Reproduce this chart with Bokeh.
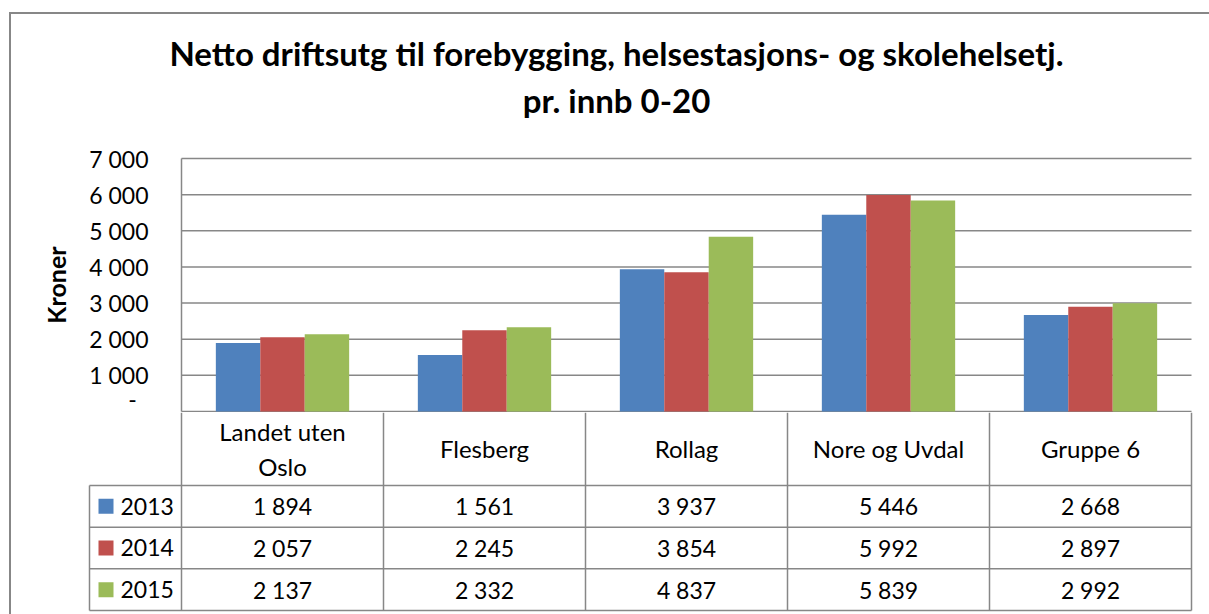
from bokeh.plotting import figure
from bokeh.models import Range1d, FixedTicker, ColumnDataSource, LinearAxis
from bokeh.transform import dodge
from bokeh.layouts import column
from bokeh.embed import file_html
from bokeh.resources import INLINE
from bokeh.core.properties import value

# ---------------- data ----------------
categories = ["Landet uten Oslo", "Flesberg", "Rollag", "Nore og Uvdal", "Gruppe 6"]
category_labels = ["Landet uten\nOslo", "Flesberg", "Rollag", "Nore og Uvdal", "Gruppe 6"]
years = ["2013", "2014", "2015"]
values_2013 = [1894, 1561, 3937, 5446, 2668]
values_2014 = [2057, 2245, 3854, 5992, 2897]
values_2015 = [2137, 2332, 4837, 5839, 2992]
y_ticks = [0, 1000, 2000, 3000, 4000, 5000, 6000, 7000]
y_tick_labels = ["-\u00a0\u00a0", "1 000", "2 000", "3 000", "4 000", "5 000", "6 000", "7 000"]
title_lines = ["Netto driftsutg til forebygging, helsestasjons- og skolehelsetj.", "pr. innb 0-20"]
y_label = "Kroner"
colors = ["#4F81BD", "#C0504D", "#9BBB59"]

FONT = "Lato"
GRID = "#878787"
series = [values_2013, values_2014, values_2015]
n = len(categories)

# shared horizontal scale: one unit = one category column (202 px)
COL = 202.0
W = 1190
x_lo = -170 / COL
x_hi = x_lo + W / COL


def new_fig(h, yr):
    f = figure(x_range=Range1d(x_lo, x_hi), y_range=yr, width=W, height=h,
               min_border_left=0, min_border_right=0, min_border_top=0, min_border_bottom=0,
               output_backend="svg", toolbar_location=None, x_axis_location=None,
               y_axis_location=None)
    f.outline_line_color = None
    f.grid.visible = False
    return f


# ---------------- title ----------------
pT = new_fig(124, Range1d(0, 1))
pT.text(x=[435 / COL] * 2, y=[0.688, 0.309], text=title_lines, text_align="center",
        text_baseline="middle", text_font=value(FONT), text_font_style="bold",
        text_font_size="33px", text_color="black")

# ---------------- chart ----------------
u = 7000 / 253.0
pA = new_fig(274, Range1d(-1 * u, 273 * u))
src = ColumnDataSource(dict(xc=[i + 0.5 for i in range(n)], y2013=values_2013,
                            y2014=values_2014, y2015=values_2015))

pA.segment(x0=[0] * len(y_ticks), x1=[n] * len(y_ticks), y0=y_ticks, y1=y_ticks,
           line_color=GRID, line_width=1.5)

offsets = [-0.22, 0.0, 0.22]
for yr, off, col in zip(years, offsets, colors):
    pA.vbar(x=dodge("xc", off), top="y" + yr, width=0.22, source=src,
            fill_color=col, line_color=None)

ax = LinearAxis(fixed_location=0, bounds=(0, 7000))
ax.ticker = FixedTicker(ticks=y_ticks)
ax.major_label_overrides = {t: l for t, l in zip(y_ticks, y_tick_labels)}
ax.axis_line_color = GRID
ax.axis_line_width = 1.5
ax.major_tick_out = 0
ax.major_tick_in = 0
ax.minor_tick_out = 0
ax.minor_tick_in = 0
ax.major_label_standoff = 33
ax.major_label_text_font = FONT
ax.major_label_text_font_size = "23px"
ax.major_label_text_color = "black"
ax.axis_label = y_label
ax.axis_label_text_font = FONT
ax.axis_label_text_font_size = "25px"
ax.axis_label_text_font_style = "bold"
ax.axis_label_text_color = "black"
ax.axis_label_standoff = 15
pA.add_layout(ax, "left")

# ---------------- data table ----------------
lab_w = 92 / COL
rh = 41.68
pB = new_fig(202, Range1d(-4 / rh, 4.75))

hx0, hx1, hy = [], [], []
for r in range(4):
    hx0.append(-lab_w); hx1.append(n); hy.append(r)
pB.segment(x0=hx0, x1=hx1, y0=hy, y1=hy, line_color=GRID, line_width=1.5)
vx = [-lab_w] + list(range(n + 1))
vy1 = [3] + [4.75] * (n + 1)
pB.segment(x0=vx, x1=vx, y0=[0] * len(vx), y1=vy1, line_color=GRID, line_width=1.5)

pB.text(x=[i + 0.5 for i in range(n)], y=[3.875] * n, text=category_labels,
        text_align="center", text_baseline="middle", text_font=value(FONT),
        text_font_size="24px", text_color="black", text_line_height=1.2)

for k, (yr, vals, col) in enumerate(zip(years, series, colors)):
    yrow = 2.5 - k
    pB.text(x=[i + 0.5 for i in range(n)], y=[yrow] * n,
            text=[f"{v:,}".replace(",", " ") for v in vals],
            text_align="center", text_baseline="middle", text_font=value(FONT),
            text_font_size="23px", text_color="black")
    pB.scatter(x=[-lab_w + 16.5 / COL], y=[yrow], marker="square", size=15,
               fill_color=col, line_color=None)
    pB.text(x=[-lab_w + 31 / COL], y=[yrow], text=[yr], text_align="left",
            text_baseline="middle", text_font=value(FONT), text_font_size="23px",
            text_color="black")

layout = column(pT, pA, pB, spacing=0,
                styles={"margin-left": "9px", "margin-top": "12px", "padding-right": "8px",
                        "border-left": "2px solid #878787", "border-top": "2px solid #878787"})

open("out.html", "w").write(file_html(layout, INLINE))
